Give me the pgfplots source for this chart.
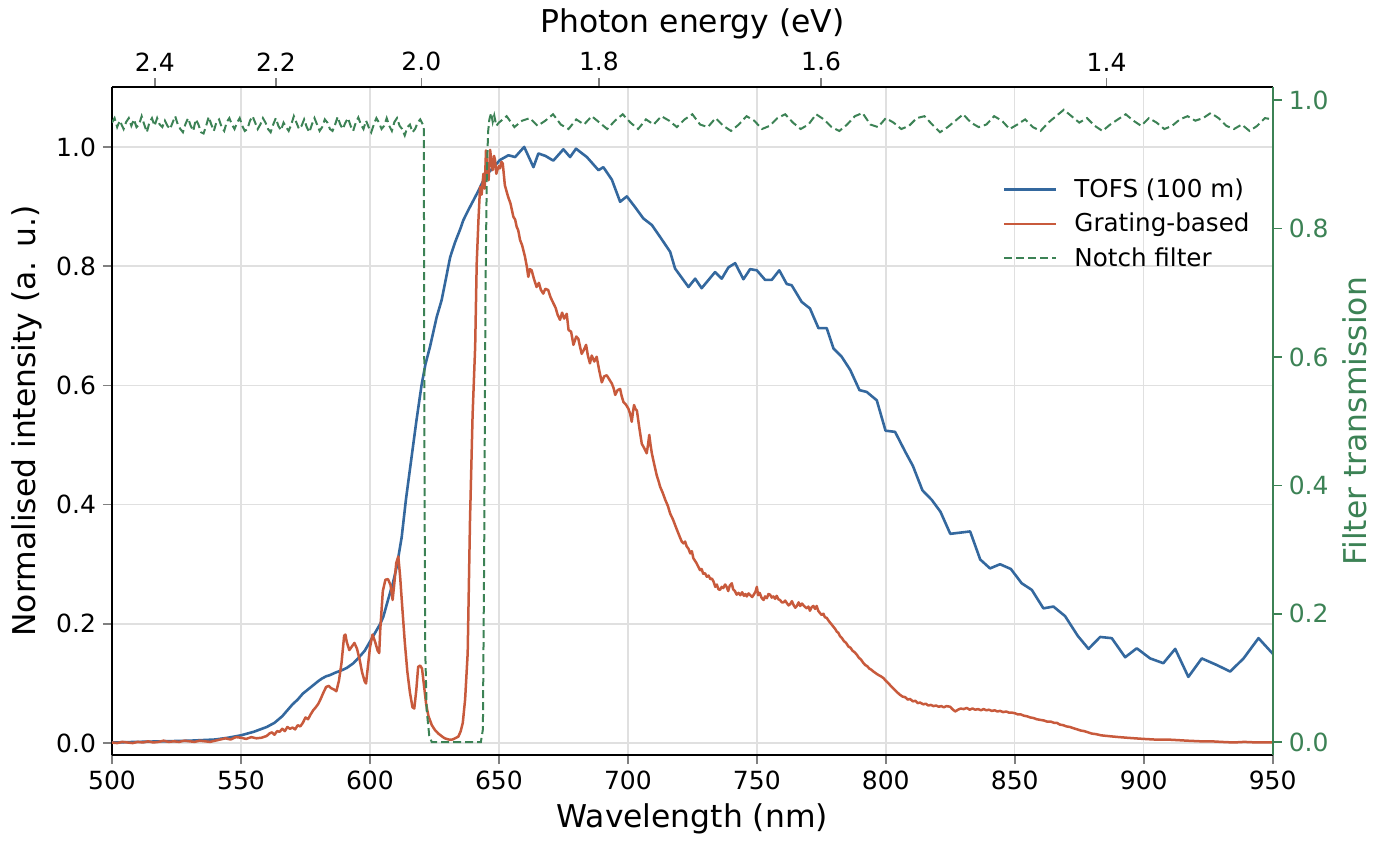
\documentclass[border=0pt]{standalone}
\usepackage{pgfplots}
\pgfplotsset{compat=1.18}
\usepackage{fontspec}
\setmainfont{DejaVu Sans}
\definecolor{cblue}{RGB}{52,104,158}
\definecolor{corange}{RGB}{200,90,60}
\definecolor{cgreen}{RGB}{60,130,85}

\pgfplotstableread{
x y
500 0.001
510 0.002
520 0.003
530 0.004
540 0.006
545 0.009
550 0.013
555 0.019
560 0.027
563 0.034
566 0.045
568 0.055
570 0.065
572 0.073
574 0.083
576 0.090
578 0.097
580 0.104
581.3 0.108
583 0.112
584.5 0.114
586 0.117
587.1 0.119
589 0.122
591 0.126
593.6 0.134
596 0.145
598 0.155
600 0.170
602 0.185
604 0.200
605.2 0.212
607 0.240
609 0.270
610.4 0.296
612.3 0.345
614 0.410
616 0.475
618 0.540
620 0.600
621.5 0.635
623.3 0.665
625.9 0.715
627.8 0.743
629.5 0.780
631.1 0.815
633 0.840
635 0.862
636.2 0.877
638.5 0.897
640.8 0.916
642 0.926
644 0.944
646 0.957
647.9 0.966
650.4 0.978
653.7 0.986
656.3 0.983
659.8 1.000
663.4 0.966
665.3 0.989
668 0.985
671.1 0.977
675 0.996
677.6 0.983
679.9 0.997
684.1 0.983
688.6 0.961
690.5 0.966
693.8 0.945
697 0.908
699.6 0.917
702.8 0.899
706 0.880
709.3 0.869
712.5 0.849
716.4 0.824
718.3 0.796
723.5 0.765
726.1 0.779
728.6 0.763
733.8 0.790
736.4 0.779
739 0.798
741.6 0.805
744.8 0.778
747.4 0.795
750 0.793
753.2 0.777
755.8 0.777
758.7 0.793
761.6 0.770
763.5 0.768
767.4 0.740
770.6 0.729
773.9 0.696
777.1 0.696
779.7 0.662
782.9 0.648
786.2 0.626
789.8 0.592
792.6 0.589
796.5 0.575
799.9 0.524
803.6 0.522
807.5 0.489
810.5 0.465
814.2 0.424
817.8 0.408
821.2 0.388
825 0.351
832.7 0.355
836.6 0.308
840.4 0.293
844.3 0.300
848.5 0.292
852.7 0.268
856.6 0.257
861.1 0.226
865 0.229
869.5 0.213
874.4 0.180
878.6 0.158
883.1 0.178
887.6 0.176
892.8 0.144
897.3 0.159
902.5 0.142
907.6 0.134
912.2 0.158
917.3 0.111
922.5 0.142
928.3 0.131
933.5 0.120
938.7 0.142
944.5 0.176
950 0.150
}\tofs

\pgfplotstableread{
x y
500 0.001
502 0.000
504 0.002
506 0.001
508 0.000
510 0.002
512 0.001
514 0.003
516 0.001
518 0.002
520 0.004
522 0.002
524 0.003
526 0.002
528 0.004
530 0.003
532 0.002
534 0.004
536 0.003
538 0.002
540 0.004
542 0.006
544 0.008
546 0.006
548 0.010
550 0.009
552 0.007
554 0.010
556 0.008
558 0.009
560 0.012
561 0.016
562 0.018
563 0.014
564 0.020
565 0.019
566 0.024
567 0.020
568 0.027
569 0.024
570 0.026
571 0.023
572 0.030
573 0.028
574 0.034
575 0.043
576 0.040
577 0.048
578 0.055
579 0.060
580 0.066
581 0.075
582 0.085
583 0.094
584 0.096
585 0.092
586 0.090
587 0.087
588 0.105
589 0.135
590 0.180
590.5 0.182
591 0.170
592 0.156
593 0.162
594 0.168
595 0.158
596 0.140
597 0.118
598 0.103
598.5 0.100
599 0.120
600 0.160
601 0.182
602 0.170
603 0.155
603.6 0.151
604 0.190
605 0.255
606 0.274
607 0.275
608 0.265
608.8 0.240
609.5 0.270
610.2 0.302
611 0.313
611.7 0.280
612.5 0.230
613.5 0.170
614.5 0.120
615.5 0.085
616.5 0.060
617.2 0.058
618 0.090
618.7 0.128
619.5 0.130
620.2 0.125
621 0.095
621.8 0.065
622.7 0.045
624 0.030
625.2 0.022
626.5 0.016
628 0.011
629 0.008
630.5 0.006
632 0.006
633 0.008
634.3 0.011
635.2 0.020
636 0.034
636.9 0.073
637.9 0.151
638.8 0.374
639.8 0.550
640.8 0.665
641.4 0.805
642.1 0.880
642.7 0.933
643.3 0.920
644 0.955
644.5 0.930
645 0.994
645.5 0.960
646 0.944
646.6 0.995
647.1 0.975
647.6 0.961
648.1 0.985
648.5 0.978
649 0.955
649.4 0.961
650 0.968
650.4 0.964
651 0.975
651.5 0.972
652 0.950
652.3 0.936
653 0.925
653.6 0.916
654.5 0.905
655.6 0.883
656.3 0.878
656.9 0.866
657.5 0.860
658.2 0.844
659 0.835
660.1 0.816
660.8 0.800
661.4 0.782
662 0.795
662.7 0.793
663.5 0.780
664.6 0.765
665.5 0.772
666.3 0.760
667.2 0.754
668 0.762
669.1 0.760
670 0.748
671.1 0.738
672 0.730
672.8 0.718
673.7 0.710
674.5 0.722
675.3 0.712
676.3 0.720
677 0.693
678 0.690
678.9 0.668
680 0.682
680.8 0.678
681.5 0.664
682.1 0.653
683 0.660
683.8 0.668
684.5 0.650
685.3 0.637
686 0.650
687 0.640
687.9 0.648
688.9 0.625
689.9 0.605
690.8 0.615
691.8 0.617
692.8 0.610
693.8 0.603
694.5 0.595
695.1 0.584
696 0.592
697 0.594
697.6 0.582
698.3 0.572
699.2 0.568
700.2 0.561
700.9 0.552
701.5 0.539
702 0.556
702.4 0.567
703 0.560
703.5 0.558
704.4 0.530
705.4 0.502
706.3 0.495
707.3 0.486
707.8 0.500
708.3 0.517
708.8 0.500
709.3 0.486
710.2 0.468
711.2 0.449
712 0.438
712.5 0.430
713.5 0.420
714.5 0.408
715.5 0.398
716.4 0.385
717.5 0.375
719 0.358
720.2 0.345
720.9 0.338
721.6 0.335
722.2 0.338
722.8 0.330
723.5 0.326
724.2 0.318
724.8 0.322
725.4 0.310
726 0.306
726.6 0.302
727.3 0.296
728 0.290
728.6 0.292
729.2 0.284
729.9 0.285
730.6 0.279
731.3 0.281
732 0.275
732.6 0.276
733.2 0.271
733.9 0.262
734.5 0.266
735.1 0.258
735.7 0.257
736.4 0.262
737 0.260
737.7 0.266
738.3 0.262
738.9 0.255
739.5 0.264
740.3 0.268
740.8 0.258
741.5 0.255
742.2 0.249
742.9 0.252
743.6 0.248
744.3 0.253
745 0.247
745.6 0.250
746.1 0.246
746.8 0.251
747.5 0.248
748.2 0.245
748.8 0.249
749.5 0.254
750 0.262
750.5 0.248
751.1 0.252
751.8 0.244
752.6 0.240
753.2 0.246
753.9 0.243
754.5 0.250
755.1 0.249
755.8 0.244
756.4 0.246
757.1 0.242
757.7 0.247
758.4 0.241
759 0.240
759.7 0.236
760.3 0.236
761 0.239
761.6 0.235
762.3 0.231
762.9 0.233
763.6 0.238
764.2 0.232
764.9 0.227
765.5 0.230
766.2 0.236
766.8 0.230
767.5 0.234
768.1 0.231
768.8 0.228
769.4 0.226
770 0.229
770.6 0.222
771.3 0.228
771.9 0.230
772.6 0.225
773.2 0.230
773.8 0.222
774.5 0.218
775.1 0.215
775.8 0.217
776.4 0.211
777.1 0.210
777.7 0.206
778.4 0.202
779 0.199
779.7 0.195
780.3 0.192
781 0.187
781.6 0.185
782.3 0.179
783 0.176
783.8 0.171
784.6 0.168
785.5 0.162
786.3 0.160
787.1 0.155
788 0.152
788.8 0.148
789.6 0.143
790.4 0.140
791.2 0.135
792 0.131
792.8 0.129
793.6 0.125
794.4 0.123
795.2 0.120
796.2 0.117
797.2 0.114
798.1 0.112
799.1 0.109
800.1 0.104
801.1 0.100
802.1 0.095
803.1 0.091
804.2 0.086
805.5 0.081
806.5 0.078
807.5 0.077
808.5 0.073
809.4 0.074
810.5 0.070
811.5 0.071
812.4 0.067
813.3 0.068
814.5 0.065
815.5 0.066
816.5 0.063
817.5 0.064
818.5 0.062
819.5 0.063
820.5 0.061
821.5 0.062
822.5 0.060
823.5 0.062
824.9 0.061
825.8 0.057
826.9 0.053
828 0.056
829 0.058
830.2 0.057
831.4 0.059
832.5 0.056
833.6 0.058
834.7 0.056
835.8 0.057
836.9 0.055
837.9 0.057
839 0.055
840 0.056
841.1 0.054
842.2 0.055
843.3 0.053
844.3 0.054
845.5 0.052
846.7 0.053
847.8 0.051
849 0.051
850.1 0.050
851.2 0.048
852.4 0.048
853.5 0.046
854.7 0.045
856 0.043
857.3 0.042
858.5 0.040
859.8 0.039
861.2 0.038
862.6 0.036
864 0.036
865.2 0.034
866.3 0.034
867.5 0.031
868.8 0.030
870 0.028
871.4 0.027
872.7 0.025
874.2 0.023
875.6 0.021
877 0.020
878.4 0.018
879.8 0.016
881.5 0.015
883.5 0.013
885.7 0.012
888 0.011
890.5 0.010
893.4 0.009
896.5 0.008
899.9 0.007
904 0.006
908.9 0.006
913 0.005
917 0.004
921.9 0.003
926 0.003
930 0.002
934.8 0.001
939 0.002
944 0.001
950 0.001
}\grating

\pgfplotstableread{
x y
500 0.965
501 0.972
502 0.958
503 0.968
504.5 0.955
505.5 0.966
506.5 0.972
507.5 0.960
508.5 0.970
509.5 0.958
510.5 0.962
511.5 0.975
512.5 0.962
513.5 0.950
514.5 0.965
515.5 0.972
516.5 0.960
517.5 0.972
518.5 0.962
519.5 0.958
520.5 0.968
521.5 0.960
522.5 0.955
523.5 0.965
524.5 0.975
525.5 0.962
526.5 0.955
527.5 0.950
528.5 0.963
529.5 0.972
530.5 0.960
531.5 0.952
532.5 0.970
533.5 0.962
534.5 0.950
535.5 0.948
536.5 0.960
537.5 0.974
538.5 0.962
539.5 0.952
540.5 0.966
541.5 0.970
542.5 0.958
543.5 0.952
544.5 0.966
545.5 0.972
546.5 0.962
547.5 0.955
548.5 0.965
549.5 0.972
550.5 0.960
551.5 0.952
552.5 0.955
553.5 0.968
554.5 0.975
555.5 0.965
556.5 0.955
557.5 0.962
558.5 0.972
559.5 0.965
560.5 0.955
561.5 0.950
562.5 0.962
563.5 0.972
564.5 0.960
565.5 0.953
566.5 0.965
567.5 0.958
568.5 0.952
569.5 0.962
570.5 0.975
571.5 0.965
572.5 0.955
573.5 0.960
574.5 0.970
575.5 0.958
576.5 0.950
577.5 0.962
578.5 0.972
579.5 0.962
580.5 0.952
581.5 0.958
582.5 0.970
583.5 0.965
584.5 0.955
585.5 0.952
586.5 0.962
587.5 0.974
588.5 0.962
589.5 0.955
590.5 0.965
591.5 0.972
592.5 0.960
593.5 0.952
594.5 0.965
595.5 0.973
596.5 0.962
597.5 0.955
598.5 0.968
599.5 0.958
600.5 0.950
601.5 0.962
602.5 0.972
603.5 0.965
604.5 0.955
605.5 0.960
606.5 0.972
607.5 0.960
608.5 0.952
609.5 0.966
610.5 0.972
611.5 0.960
612.5 0.955
613.5 0.945
614.5 0.958
615.5 0.962
616.5 0.950
617.5 0.955
618.5 0.965
619.5 0.970
620.5 0.962
620.9 0.955
621.1 0.500
621.4 0.150
622 0.050
623 0.010
624 0.000
643 0.000
643.8 0.020
644.3 0.300
644.8 0.700
645.3 0.880
645.8 0.950
646.3 0.970
647 0.980
647.6 0.966
648.2 0.976
649 0.960
650 0.965
653 0.975
656 0.958
659 0.968
662 0.972
665 0.960
668 0.968
671 0.978
674 0.962
677 0.955
680 0.970
683 0.962
686 0.975
689 0.965
692 0.955
695 0.968
698 0.978
701 0.965
704 0.955
707 0.970
710 0.962
713 0.975
716 0.968
719 0.958
722 0.970
725 0.978
728 0.962
731 0.958
734 0.972
737 0.960
740 0.952
743 0.962
746 0.975
749 0.968
752 0.955
755 0.960
758 0.972
761 0.978
764 0.965
767 0.955
770 0.962
773 0.978
776 0.970
779 0.958
782 0.952
785 0.962
788 0.975
791 0.980
794 0.962
797 0.958
800 0.972
803 0.965
806 0.955
809 0.960
812 0.972
815 0.975
818 0.962
821 0.950
824 0.958
827 0.968
830 0.978
833 0.965
836 0.958
839 0.962
842 0.975
845 0.968
848 0.955
851 0.962
854 0.970
857 0.958
860 0.952
863 0.965
866 0.975
869 0.985
872 0.975
875 0.965
878 0.972
881 0.960
884 0.952
887 0.962
890 0.970
893 0.978
896 0.968
899 0.960
902 0.972
905 0.965
908 0.955
911 0.960
914 0.970
917 0.975
920 0.968
923 0.972
926 0.980
929 0.972
932 0.960
935 0.955
938 0.962
941 0.952
944 0.960
947 0.972
950 0.970
}\notch

\pgfplotsset{
  every axis/.append style={
    scale only axis, width=580.35pt, height=333.85pt,
    at={(0pt,0pt)}, anchor=south west,
    xmin=500, xmax=950,
    /pgf/number format/assume math mode=true,
    tick label style={font=\fontsize{12.5}{15}\selectfont},
    label style={font=\fontsize{15.7}{19}\selectfont},
    tick align=outside, major tick length=4.5pt,
    axis line style={line width=0.8pt},
    every tick/.append style={line width=0.8pt},
  }
}

\begin{document}
\begin{tikzpicture}
\path[use as bounding box] (-56pt,-46pt) rectangle (637.5pt,377.5pt);

% left axis
\begin{axis}[
  ymin=-0.02, ymax=1.1,
  axis y line*=left, axis x line*=bottom,
  xtick={500,550,600,650,700,750,800,850,900,950},
  ytick={0,0.2,0.4,0.6,0.8,1.0},
  yticklabel style={/pgf/number format/.cd, fixed, fixed zerofill, precision=1},
  xticklabel style={/pgf/number format/.cd, fixed, precision=0, 1000 sep={}},
  xmajorgrids, ymajorgrids,
  major grid style={black!12, line width=0.7pt},
  xlabel={Wavelength (nm)},
  ylabel={Normalised intensity (a. u.)},
]
\addplot[cblue, line width=1.3pt, line join=round] table[x=x,y=y] {\tofs};
\addplot[corange, line width=1.25pt, line join=round] table[x=x,y=y] {\grating};
\end{axis}

% top axis
\begin{axis}[
  ymin=0, ymax=1,
  axis x line*=top, axis y line=none,
  xtick={516.6,563.56,619.92,688.8,774.9,885.6},
  xticklabels={2.4,2.2,2.0,1.8,1.6,1.4},
  xlabel={Photon energy (eV)},
]
\addplot[draw=none] coordinates {(500,0.5)};
\end{axis}

% right axis
\begin{axis}[
  ymin=-0.02, ymax=1.02,
  axis y line*=right, axis x line=none,
  ytick={0,0.2,0.4,0.6,0.8,1.0},
  yticklabel style={cgreen, /pgf/number format/.cd, fixed, fixed zerofill, precision=1},
  y axis line style={cgreen},
  ytick style={cgreen},
  ylabel={Filter transmission},
  ylabel style={cgreen},
  legend style={draw=none, fill=none, at={(rel axis cs:0.989,0.876)}, anchor=north east,
    font=\fontsize{12.3}{14}\selectfont, row sep=2.4pt},
  legend cell align=left,
  legend image code/.code={\draw[#1] (0pt,0pt) -- (26pt,0pt); \path (32.5pt,0pt);},
]
\addlegendimage{cblue, line width=1.3pt}
\addlegendentry{TOFS (100 m)}
\addlegendimage{corange, line width=1.3pt}
\addlegendentry{Grating-based}
\addplot[cgreen, line width=1pt, dash pattern=on 4pt off 2pt] table[x=x,y=y] {\notch};
\addlegendentry{Notch filter}
\end{axis}
\end{tikzpicture}
\end{document}
